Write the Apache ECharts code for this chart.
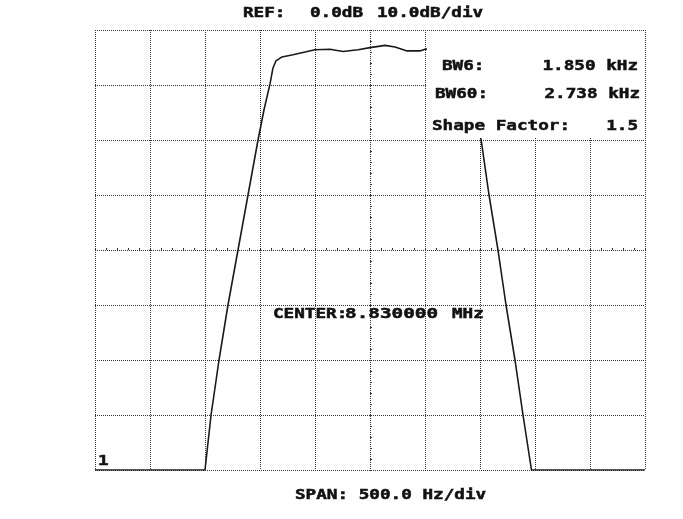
<!DOCTYPE html>
<html>
<head>
<meta charset="utf-8">
<script src="https://cdn.jsdelivr.net/npm/echarts@6/dist/echarts.min.js"></script>
<style>
  html, body { margin: 0; padding: 0; background: #fff; }
  #chart { width: 683px; height: 519px; }
</style>
</head>
<body>
<div id="chart"></div>
<script>
// frequency position in divisions (0..10, 500 Hz/div), level in dB (REF 0 dB, 10 dB/div)
var traceDiv = [0, 2.0, 2.11, 2.255, 2.418, 2.6, 2.782, 2.964, 3.073, 3.182, 3.236, 3.291, 3.4, 3.6,
  4.0, 4.273, 4.509, 4.782, 5.0, 5.273, 5.455, 5.673, 5.909, 6.0, 6.27, 6.64, 6.85, 6.96,
  7.018, 7.164, 7.327, 7.473, 7.636, 7.782, 7.936, 10];
var traceDb = [-80, -80, -70, -60, -50, -40, -30, -20, -14.5, -9.8, -6.9, -5.6, -4.9, -4.5,
  -3.6, -3.5, -3.9, -3.6, -3.2, -2.8, -3.1, -3.8, -3.8, -3.5, -3.2, -3.6, -5.5, -14.5,
  -19.8, -30, -40, -50, -60, -70, -80, -80];

var headerText = ["REF:", "0.0dB", "10.0dB/div"];
var centerText = ["CENTER:", "8.830000", "MHz"];
var spanText = "SPAN: 500.0 Hz/div";
var readoutLabels = ["BW6:", "BW60:", "Shape Factor:"];
var readoutValues = ["1.850 kHz", "2.738 kHz", "1.5"];
var traceLabel = "1";

var chart = echarts.init(document.getElementById("chart"));

var FONT = "bold 14px 'DejaVu Sans Mono'";
var SX = 1.26;

function txt(str, x, y, align, sx) {
  return {
    type: "text",
    x: x,
    y: y,
    scaleX: sx || SX,
    z: 100,
    style: {
      text: str,
      font: FONT,
      fill: "#111",
      stroke: "#111",
      lineWidth: 0.5,
      align: align || "left",
      verticalAlign: "middle",
    },
  };
}

var data = [];
for (var i = 0; i < traceDiv.length; i++) {
  data.push([traceDiv[i], traceDb[i]]);
}

var gridLine = {
  show: true,
  lineStyle: { color: "#333", width: 1, type: [1, 1] },
};

chart.setOption({
  animation: false,
  backgroundColor: "#fff",
  grid: { left: 95, right: 38, top: 30, bottom: 49 },
  xAxis: [
    {
      type: "value",
      min: 0,
      max: 10,
      interval: 1,
      axisLine: { show: false },
      axisTick: { show: false },
      axisLabel: { show: false },
      splitLine: gridLine,
    },
    {
      // helper axis: puts tick marks on the horizontal centre line
      type: "value",
      min: -5,
      max: 5,
      interval: 0.2,
      axisLine: { show: false, onZero: true, onZeroAxisIndex: 1 },
      axisTick: { show: true, length: 2, lineStyle: { color: "#333" } },
      axisLabel: { show: false },
      splitLine: { show: false },
    },
  ],
  yAxis: [
    {
      type: "value",
      min: -80,
      max: 0,
      interval: 10,
      axisLine: { show: false },
      axisTick: { show: false },
      axisLabel: { show: false },
      splitLine: gridLine,
    },
    {
      // helper axis: tick marks on the vertical centre line
      type: "value",
      min: -40,
      max: 40,
      interval: 2,
      axisLine: { show: false, onZero: true, onZeroAxisIndex: 1 },
      axisTick: { show: true, length: 2, lineStyle: { color: "#333" } },
      axisLabel: { show: false },
      splitLine: { show: false },
    },
  ],
  series: [
    {
      type: "line",
      xAxisIndex: 0,
      yAxisIndex: 0,
      data: data,
      symbol: "none",
      lineStyle: { color: "#1a1a1a", width: 1.6 },
      z: 5,
    },
  ],
  graphic: [
    // readout panel covers the top right of the screen
    {
      type: "rect",
      z: 50,
      shape: { x: 427, y: 31, width: 217, height: 107 },
      style: { fill: "#fff" },
    },
    txt(headerText[0], 243, 13),
    txt(headerText[1], 310, 13),
    txt(headerText[2], 377, 13),
    txt(readoutLabels[0], 442, 66),
    txt(readoutValues[0], 638, 66, "right"),
    txt(readoutLabels[1], 435, 94),
    txt(readoutValues[1], 640, 94, "right"),
    txt(readoutLabels[2], 432, 126),
    txt(readoutValues[2], 638, 126, "right"),
    txt(centerText[0], 273, 314),
    txt(centerText[1], 345, 314, "left", 1.38),
    txt(centerText[2], 452, 314),
    txt(traceLabel, 98, 461),
    txt(spanText, 295, 495),
  ],
});
</script>
</body>
</html>
